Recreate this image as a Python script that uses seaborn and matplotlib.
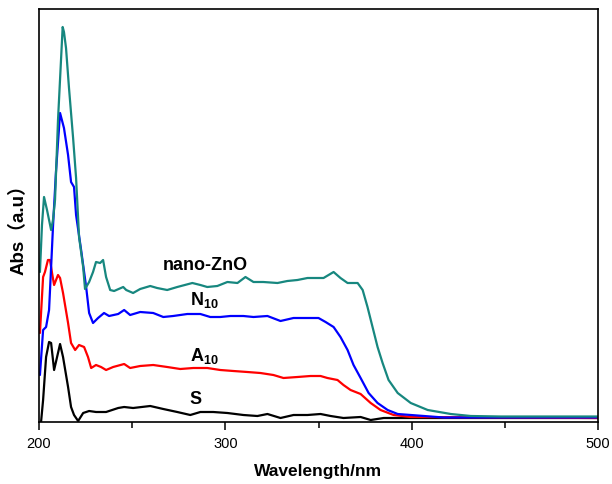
import numpy as np
import pandas as pd
import matplotlib
matplotlib.use("Agg")
import matplotlib.pyplot as plt
import seaborn as sns
from matplotlib.ticker import MultipleLocator

# UV-Vis absorbance spectra (arbitrary units)
wl_zno = [200.5, 201.6, 202.7, 204.3, 206.5, 207.5, 208.6, 210.2, 212.7, 213.4,
          214.5, 216.1, 218.3, 219.9, 221.5, 223.7, 224.7, 226.9, 229.0, 230.6,
          232.8, 234.4, 236.0, 238.2, 240.3, 245.2, 246.8, 250.5, 254.3, 259.7,
          263.4, 268.8, 274.2, 282.3, 286.6, 290.3, 295.7, 301.1, 306.5, 310.8,
          315.1, 320.4, 328.0, 333.3, 338.7, 344.1, 352.7, 358.1, 361.8, 365.6,
          371.0, 373.7, 376.3, 379.0, 381.7, 384.4, 387.6, 392.5, 399.5, 408.6,
          421.0, 431.7, 447.8, 500.0]
abs_zno = [1.50, 1.97, 2.25, 2.12, 1.92, 2.02, 2.22, 3.02, 3.95, 3.90,
           3.74, 3.34, 2.84, 2.44, 1.85, 1.55, 1.33, 1.40, 1.50, 1.60,
           1.59, 1.62, 1.45, 1.32, 1.31, 1.35, 1.32, 1.29, 1.33, 1.36,
           1.34, 1.32, 1.35, 1.39, 1.37, 1.35, 1.36, 1.40, 1.39, 1.45,
           1.40, 1.40, 1.39, 1.41, 1.42, 1.44, 1.44, 1.50, 1.44, 1.39,
           1.39, 1.32, 1.15, 0.95, 0.75, 0.59, 0.42, 0.29, 0.19, 0.12,
           0.08, 0.06, 0.055, 0.055]

wl_n10 = [200.5, 202.2, 203.8, 205.4, 206.5, 207.5, 209.1, 211.3, 213.4, 215.6,
          217.2, 218.8, 219.9, 222.6, 225.3, 226.9, 229.0, 231.7, 234.9, 237.6,
          242.5, 245.7, 248.9, 254.3, 261.3, 266.7, 272.0, 279.6, 286.6, 291.9,
          297.3, 302.7, 309.7, 315.1, 322.6, 329.6, 336.6, 344.1, 350.0, 353.8,
          358.1, 361.8, 365.6, 368.8, 372.6, 376.9, 381.7, 387.1, 392.5, 399.5,
          417.2, 500.0]
abs_n10 = [0.47, 0.92, 0.95, 1.12, 1.55, 1.95, 2.50, 3.09, 2.94, 2.67,
           2.40, 2.35, 2.07, 1.72, 1.35, 1.09, 0.99, 1.04, 1.09, 1.06,
           1.08, 1.12, 1.07, 1.10, 1.09, 1.05, 1.06, 1.08, 1.08, 1.05,
           1.05, 1.06, 1.06, 1.05, 1.06, 1.01, 1.04, 1.04, 1.04, 1.00,
           0.95, 0.85, 0.72, 0.57, 0.44, 0.29, 0.19, 0.12, 0.08, 0.07,
           0.045, 0.045]

wl_a10 = [200.5, 202.2, 203.2, 204.8, 205.9, 207.0, 208.1, 210.2, 211.3, 212.9,
          215.6, 217.2, 219.4, 221.5, 224.2, 226.3, 228.0, 230.6, 233.3, 236.0,
          239.8, 245.7, 248.9, 254.3, 261.3, 268.8, 275.8, 282.8, 290.3, 297.3,
          304.3, 311.8, 318.8, 325.8, 331.2, 338.7, 345.7, 351.1, 354.8, 360.2,
          363.4, 367.2, 372.6, 378.0, 383.3, 390.3, 399.5, 500.0]
abs_a10 = [0.89, 1.45, 1.50, 1.62, 1.62, 1.49, 1.37, 1.47, 1.44, 1.29,
           0.99, 0.79, 0.72, 0.77, 0.75, 0.65, 0.54, 0.57, 0.55, 0.52,
           0.55, 0.58, 0.54, 0.56, 0.57, 0.55, 0.53, 0.54, 0.54, 0.52,
           0.51, 0.50, 0.49, 0.47, 0.44, 0.45, 0.46, 0.46, 0.44, 0.42,
           0.37, 0.32, 0.28, 0.19, 0.12, 0.07, 0.05, 0.04]

wl_s = [201.1, 202.2, 203.8, 205.4, 206.5, 208.1, 210.2, 211.3, 212.9, 215.6,
        217.2, 218.8, 221.0, 223.7, 226.9, 230.6, 236.0, 242.5, 245.7, 250.5,
        259.7, 266.7, 274.2, 281.2, 286.6, 293.5, 301.1, 309.7, 317.2, 322.6,
        329.6, 336.6, 344.1, 351.1, 356.5, 363.4, 372.6, 378.0, 385.0, 399.5,
        500.0]
abs_s = [0.00, 0.22, 0.65, 0.80, 0.79, 0.52, 0.69, 0.78, 0.65, 0.35,
         0.15, 0.07, 0.01, 0.09, 0.11, 0.10, 0.10, 0.14, 0.15, 0.14,
         0.16, 0.13, 0.10, 0.07, 0.10, 0.10, 0.09, 0.07, 0.06, 0.08,
         0.04, 0.07, 0.07, 0.08, 0.06, 0.04, 0.05, 0.02, 0.04, 0.04,
         0.04]

series = [
    ("S", wl_s, abs_s, "black"),
    ("A10", wl_a10, abs_a10, "#ff0000"),
    ("N10", wl_n10, abs_n10, "#0000ff"),
    ("nano-ZnO", wl_zno, abs_zno, "#17877f"),
]

sns.set_style("ticks", {"text.color": "black", "axes.labelcolor": "black",
                        "xtick.color": "black", "axes.edgecolor": "black"})
plt.rcParams["font.family"] = ["Liberation Sans", "Noto Sans CJK SC", "DejaVu Sans"]
plt.rcParams["mathtext.fontset"] = "custom"
plt.rcParams["mathtext.rm"] = "Liberation Sans:bold"
plt.rcParams["mathtext.default"] = "rm"

fig = plt.figure(figsize=(6.12, 4.84), dpi=100)
ax = fig.add_axes([39 / 612, 62 / 484, 559 / 612, 413 / 484])

for name, wl, ab, col in series:
    sns.lineplot(x=wl, y=ab, color=col, linewidth=1.6, estimator=None, sort=False, ax=ax)

ax.set_xlim(200, 500)
ax.set_ylim(0, 4.13)
ax.xaxis.set_major_locator(MultipleLocator(100))
ax.xaxis.set_minor_locator(MultipleLocator(50))
ax.set_yticks([])
ax.tick_params(axis="x", which="major", direction="out", length=6, width=1.1,
               labelsize=10.5, colors="black", pad=5)
ax.tick_params(axis="x", which="minor", direction="out", length=4, width=1.1)
for sp in ax.spines.values():
    sp.set_visible(True)
    sp.set_linewidth(1.2)
    sp.set_color("black")

ax.set_xlabel("Wavelength/nm", fontsize=12.5, fontweight="bold", labelpad=9, color="black")
ax.set_ylabel("Abs（a.u）", fontsize=13.5, fontweight="bold", color="black")
ax.yaxis.set_label_coords(-0.02, 0.477)

# curve labels
lab = dict(fontsize=13, fontweight="bold", color="black", ha="left", va="center")
ax.text(266.5, 1.57, "nano-ZnO", **lab)
ax.text(281.0, 1.22, "N$_{10}$", **lab)
ax.text(281.0, 0.66, "A$_{10}$", **lab)
ax.text(281.0, 0.22, "S", **lab)

fig.savefig("out.png", dpi=100)
